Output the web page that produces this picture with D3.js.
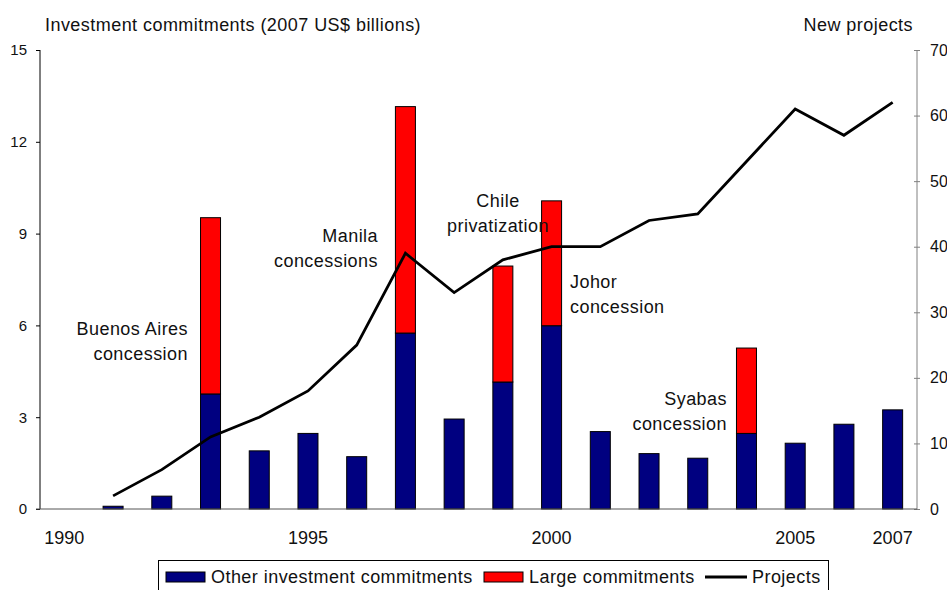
<!DOCTYPE html>
<html><head><meta charset="utf-8">
<script src="https://cdn.jsdelivr.net/npm/d3@7/dist/d3.min.js"></script>
<style>body{margin:0;background:#fff}svg{display:block;font-family:"Liberation Sans",Arial,sans-serif}</style>
</head><body>
<script>
const years = [1990,1991,1992,1993,1994,1995,1996,1997,1998,1999,2000,2001,2002,2003,2004,2005,2006,2007];
const otherCommitments = [0,0.09,0.42,3.76,1.9,2.47,1.71,5.75,2.94,4.15,5.99,2.53,1.81,1.66,2.47,2.15,2.77,3.24];
const largeCommitments = [0,0,0,5.76,0,0,0,7.4,0,3.79,4.08,0,0,0,2.79,0,0,0];
const projects = [null,2,6,11,14,18,25,39,33,38,40,40,44,45,53,61,57,62];
const xTickLabels = [1990,1995,2000,2005,2007];
const leftTicks = [0,3,6,9,12,15];
const rightTicks = [0,10,20,30,40,50,60,70];
const annotations = [
  {year:1993, lines:["Buenos Aires","concession"], x:188, y:335, anchor:"end"},
  {year:1997, lines:["Manila","concessions"], x:378, y:242, anchor:"end"},
  {year:1999, lines:["Chile","privatization"], x:498, y:207, anchor:"middle"},
  {year:2000, lines:["Johor","concession"], x:570, y:288, anchor:"start"},
  {year:2004, lines:["Syabas","concession"], x:727, y:405, anchor:"end"}
];

const W=947,H=590;
const FS=18, LS=0.45;
const svg=d3.select("body").append("svg").attr("width",W).attr("height",H);
const L=40,R=917,T=50,B=509;
const x=d3.scaleBand().domain(years).range([L,R]);
const yL=d3.scaleLinear().domain([0,15]).range([B,T]);
const yR=d3.scaleLinear().domain([0,70]).range([B,T]);
const bw=20;

const stack=years.map((yr,i)=>({yr,o:otherCommitments[i],l:largeCommitments[i]}));
const g=svg.append("g");
g.selectAll("rect.o").data(stack.filter(d=>d.o>0)).join("rect")
 .attr("x",d=>x(d.yr)+x.bandwidth()/2-bw/2).attr("width",bw)
 .attr("y",d=>yL(d.o)).attr("height",d=>yL(0)-yL(d.o))
 .attr("fill","#000080").attr("stroke","#000").attr("stroke-width",1);
g.selectAll("rect.l").data(stack.filter(d=>d.l>0)).join("rect")
 .attr("x",d=>x(d.yr)+x.bandwidth()/2-bw/2).attr("width",bw)
 .attr("y",d=>yL(d.o+d.l)).attr("height",d=>yL(d.o)-yL(d.o+d.l))
 .attr("fill","#ff0000").attr("stroke","#000").attr("stroke-width",1);

// axes
const axL=svg.append("g").attr("transform",`translate(${L},0)`)
 .call(d3.axisLeft(yL).tickValues(leftTicks).tickSize(4).tickPadding(9));
axL.select(".domain").attr("stroke","#000").attr("d",`M0,${T}V${B}`);
axL.selectAll("text").attr("font-size",15).attr("fill","#111").attr("font-family","Liberation Sans, Arial, sans-serif");

const axR=svg.append("g").attr("transform",`translate(${R},0)`)
 .call(d3.axisRight(yR).tickValues(rightTicks).tickSize(3).tickPadding(10));
axR.select(".domain").attr("stroke","#808080").attr("d",`M0,${T}V${B}`);
axR.selectAll(".tick line").attr("stroke","#808080").attr("x1",-3).attr("x2",3);
axR.selectAll("text").attr("font-size",16).attr("fill","#111").attr("font-family","Liberation Sans, Arial, sans-serif");

svg.append("line").attr("x1",L-4).attr("x2",R).attr("y1",B).attr("y2",B).attr("stroke","#555");

svg.append("g").selectAll("text").data(xTickLabels).join("text")
 .attr("x",d=>x(d)+x.bandwidth()/2).attr("y",544).attr("text-anchor","middle")
 .attr("font-size",FS).attr("fill","#111").text(d=>d);

// line
const line=d3.line().defined(d=>d.v!=null).x(d=>x(d.yr)+x.bandwidth()/2).y(d=>yR(d.v));
svg.append("path").datum(years.map((yr,i)=>({yr,v:projects[i]})))
 .attr("d",line).attr("fill","none").attr("stroke","#000").attr("stroke-width",2.8).attr("stroke-linejoin","miter");

// titles
svg.append("text").attr("x",45).attr("y",31).attr("font-size",FS).attr("letter-spacing",LS).attr("fill","#111").text("Investment commitments (2007 US$ billions)");
svg.append("text").attr("x",913).attr("y",31).attr("text-anchor","end").attr("font-size",FS).attr("letter-spacing",LS).attr("fill","#111").text("New projects");

// annotations
annotations.forEach(a=>{
  const t=svg.append("text").attr("font-size",FS).attr("letter-spacing",LS).attr("fill","#111").attr("text-anchor",a.anchor);
  a.lines.forEach((s,i)=>t.append("tspan").attr("x",a.x).attr("y",a.y+i*24.5).text(s));
});

// legend
const lg=svg.append("g");
lg.append("rect").attr("x",158.5).attr("y",560.5).attr("width",670).attr("height",40).attr("fill","#fff").attr("stroke","#000");
const items=[{t:"Other investment commitments",c:"#000080",x:166},{t:"Large commitments",c:"#ff0000",x:484}];
items.forEach(it=>{
  lg.append("rect").attr("x",it.x).attr("y",572).attr("width",39).attr("height",10).attr("fill",it.c).attr("stroke","#000");
  lg.append("text").attr("x",it.x+45).attr("y",583).attr("font-size",FS).attr("letter-spacing",LS).attr("fill","#111").text(it.t);
});
lg.append("line").attr("x1",705).attr("x2",747).attr("y1",577).attr("y2",577).attr("stroke","#000").attr("stroke-width",2.8);
lg.append("text").attr("x",752).attr("y",583).attr("font-size",FS).attr("letter-spacing",LS).attr("fill","#111").text("Projects");
</script>
</body></html>
